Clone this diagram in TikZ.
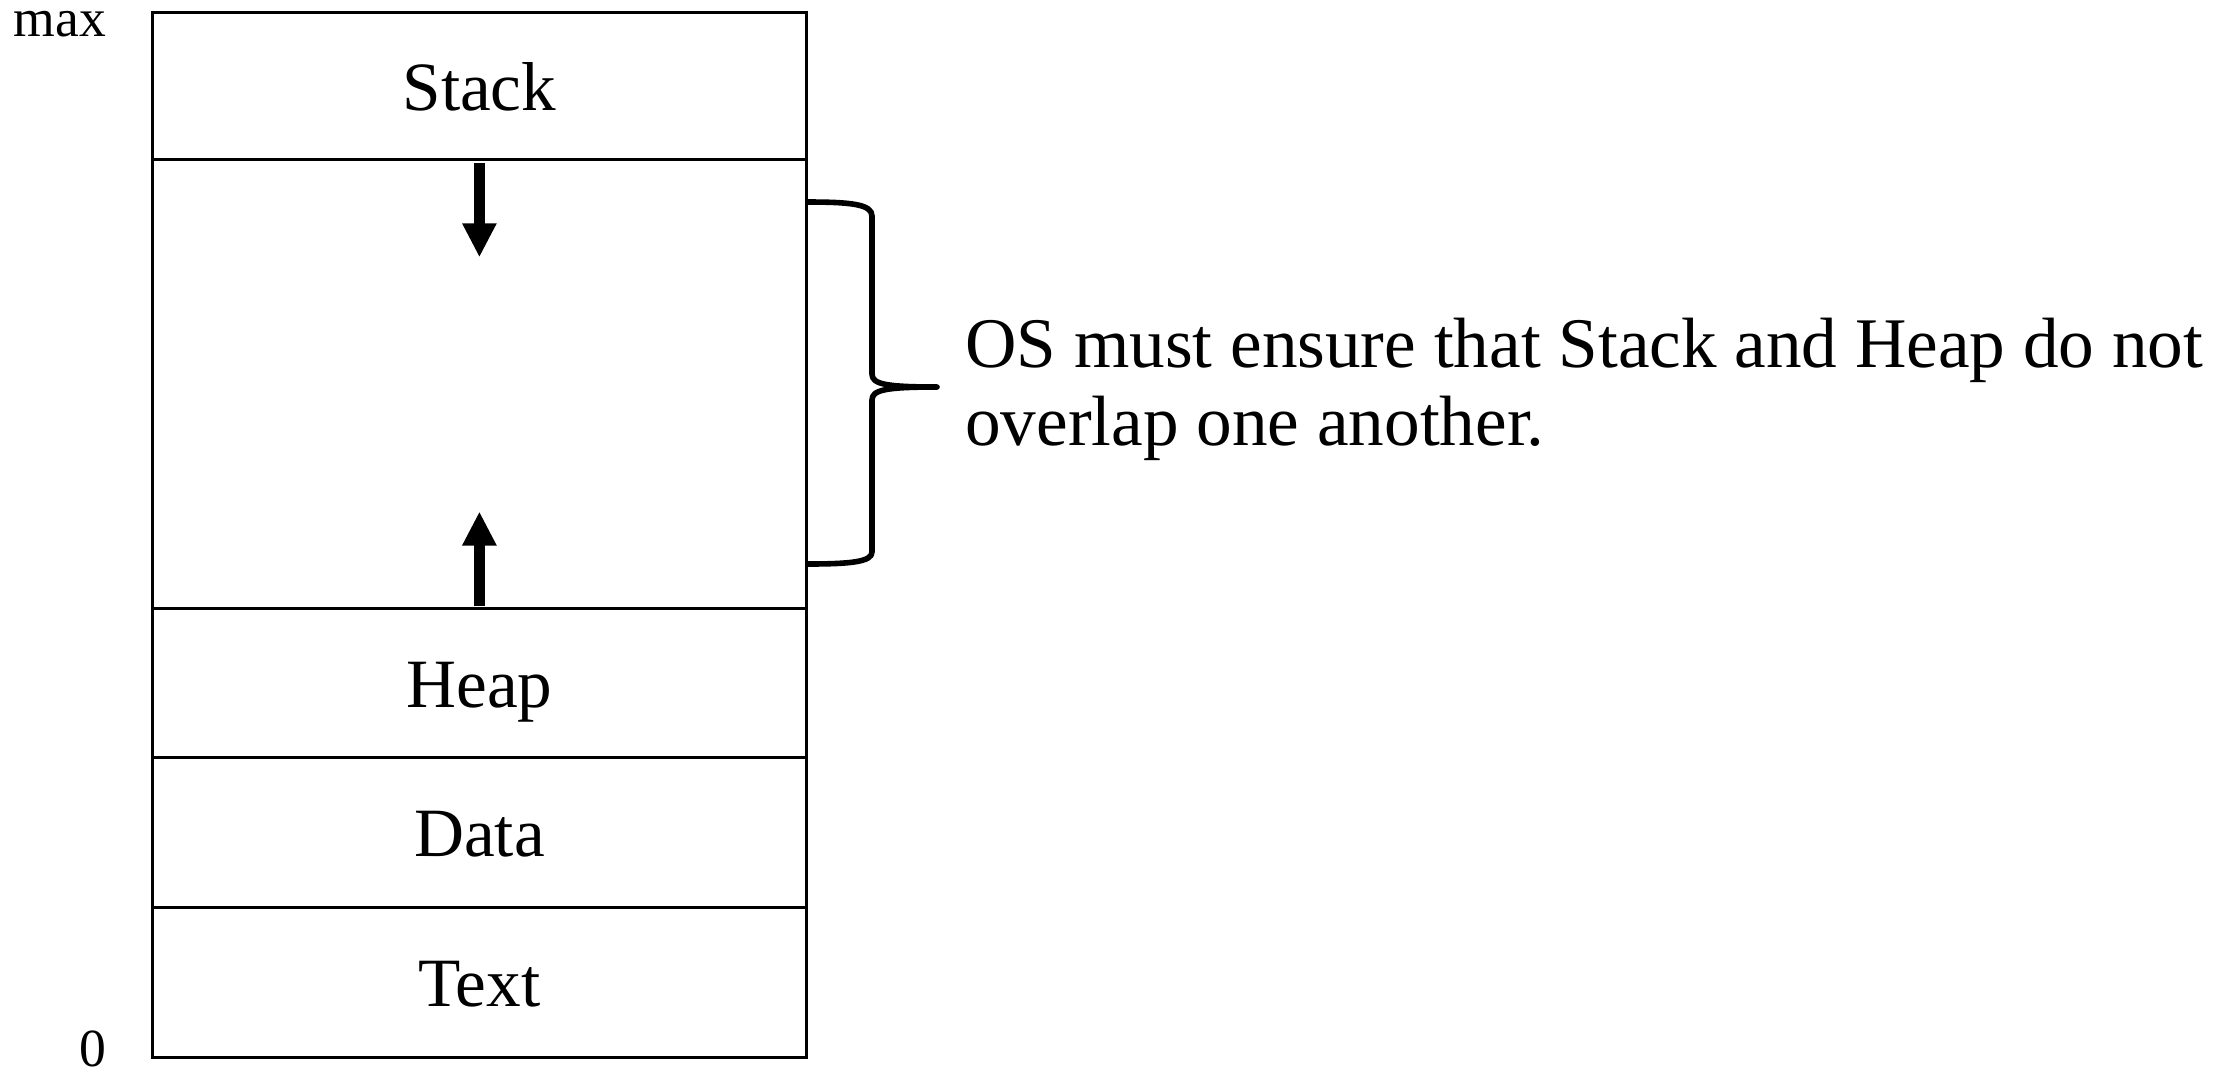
\documentclass[tikz,border=0pt]{standalone}
\usepackage{fontspec}
\setmainfont{Liberation Serif}
\usetikzlibrary{arrows.meta}
\begin{document}
\begin{tikzpicture}[x=0.25pt,y=-0.25pt,
  seg/.style={draw, line width=0.75pt, minimum width=163.5pt, inner sep=0pt,
    text height=0.66em, text depth=0pt, font=\fontsize{17.3}{18}\selectfont},
  growarrow/.style={line width=2.7pt, -{Triangle[width=8pt,length=8.5pt]}},
  bracket/.style={line width=1.4pt, line join=round},
  axis/.style={font=\fontsize{13.4}{14}\selectfont, inner sep=0pt}]
\useasboundingbox (0,0) rectangle (2234,1073);

% address space segments, top (max) to bottom (0)
\node[seg, minimum height=36.7pt]  (stack) at (479.4,86.2)  {\raisebox{-2.7pt}{Stack}};
\node[seg, minimum height=112.2pt] (free)  at (479.4,384.0) {};
\node[seg, minimum height=37.4pt]  (heap)  at (479.4,683.1) {\raisebox{-2.7pt}{Heap}};
\node[seg, minimum height=37.4pt]  (data)  at (479.4,832.7) {\raisebox{-2.7pt}{Data}};
\node[seg, minimum height=37.4pt]  (text)  at (479.4,982.3) {\raisebox{-2.7pt}{Text}};

% address labels
\node[axis, anchor=east] (max)  at (107,24)  {max};
\node[axis]              (zero) at (93,1049) {0};

% growth directions of stack and heap
\draw[growarrow] ([yshift=-1.3pt]free.north) -- ([yshift=-24.8pt]free.north);
\draw[growarrow] ([yshift=0.9pt]free.south) -- ([yshift=24.6pt]free.south);

% brace over the gap
\coordinate (bt)  at (806.4,202);
\coordinate (bb)  at (806.4,564);
\coordinate (tip) at (937,387);
\draw[bracket] (bt) .. controls (850,202) and (872,204) .. (872,216)
  -- (872,374) .. controls (872,384) and (885,387) .. (tip)
  .. controls (885,387) and (872,390) .. (872,400)
  -- (872,552) .. controls (872,562) and (850,564) .. (bb);

\node[anchor=west, align=left, inner sep=0pt,
  font=\fontsize{17.8}{19.5}\selectfont] (note) at (964.5,389)
  {OS must ensure that Stack and Heap do not\\overlap one another.};
\end{tikzpicture}
\end{document}
